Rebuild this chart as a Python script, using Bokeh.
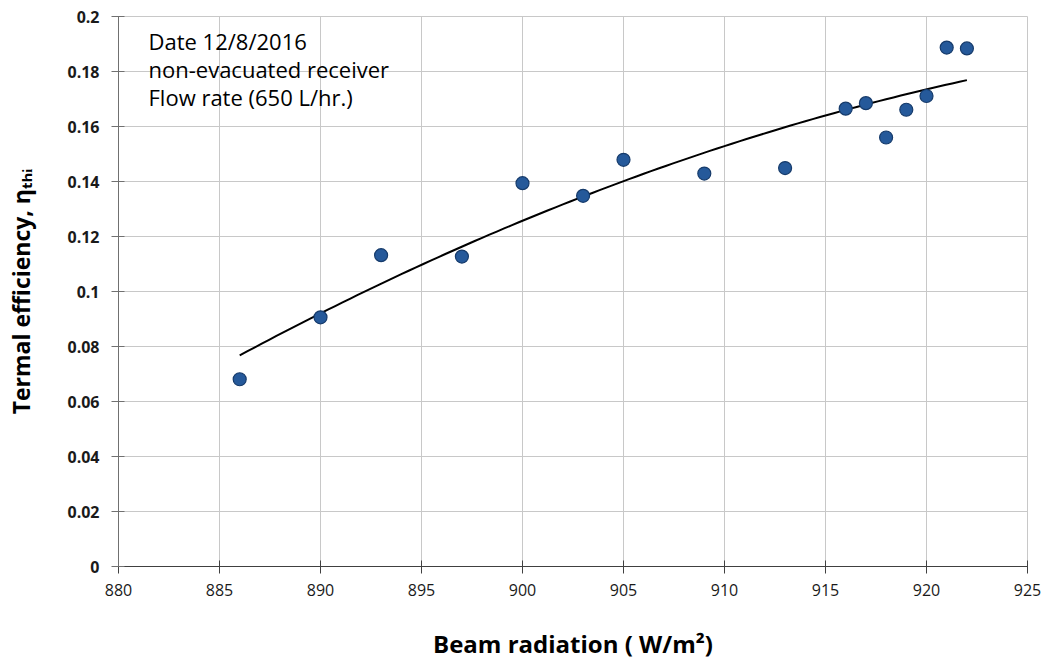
import numpy as np
from bokeh.plotting import figure
from bokeh.models import ColumnDataSource, FixedTicker, Label, Range1d
from bokeh.embed import file_html
from bokeh.resources import INLINE

# ---- data ----
beam_radiation = [886, 890, 893, 897, 900, 903, 905, 909, 913, 916, 917, 918, 919, 920, 921, 922]
efficiency = [0.0681, 0.0906, 0.1132, 0.1127, 0.1394, 0.1348, 0.1479, 0.1429, 0.1449,
              0.1665, 0.1685, 0.1560, 0.1661, 0.1711, 0.1887, 0.1884]
x_ticks = [880, 885, 890, 895, 900, 905, 910, 915, 920, 925]
x_tick_labels = ["880", "885", "890", "895", "900", "905", "910", "915", "920", "925"]
y_ticks = [0, 0.02, 0.04, 0.06, 0.08, 0.1, 0.12, 0.14, 0.16, 0.18, 0.2]
y_tick_labels = ["0", "0.02", "0.04", "0.06", "0.08", "0.1", "0.12", "0.14", "0.16", "0.18", "0.2"]
info_lines = ["Date 12/8/2016", "non-evacuated receiver", "Flow rate (650 L/hr.)"]
x_title = "Beam radiation ( W/m\u00b2)"
y_title = "Termal efficiency, \u03b7\u209c\u2095\u1d62"

# second-order polynomial trend line fitted to the data
coef = np.polyfit(beam_radiation, efficiency, 2)
trend_x = np.linspace(min(beam_radiation), max(beam_radiation), 100)
trend_y = np.polyval(coef, trend_x)

p = figure(width=1050, height=666, output_backend="svg", toolbar_location=None,
           x_range=Range1d(880, 925), y_range=Range1d(0, 0.2),
           min_border_left=118, min_border_right=23, min_border_top=16, min_border_bottom=100)
p.background_fill_color = "white"
p.border_fill_color = "white"
p.outline_line_color = "#c8c8c8"

grid_color = "#c8c8c8"
p.xgrid.grid_line_color = grid_color
p.ygrid.grid_line_color = grid_color
p.xgrid.ticker = FixedTicker(ticks=x_ticks)
p.ygrid.ticker = FixedTicker(ticks=y_ticks)

p.xaxis.ticker = FixedTicker(ticks=x_ticks)
p.yaxis.ticker = FixedTicker(ticks=y_ticks)
p.xaxis.major_label_overrides = {t: l for t, l in zip(x_ticks, x_tick_labels)}
p.yaxis.major_label_overrides = {t: l for t, l in zip(y_ticks, y_tick_labels)}

for ax in (p.xaxis, p.yaxis):
    ax.minor_tick_line_color = None
    ax.major_tick_in = 6
    ax.major_tick_out = 7
    ax.major_label_text_font = "Open Sans"
    ax.major_label_text_font_size = "16px"
    ax.major_label_text_color = "#1a1a1a"
    ax.axis_label_text_font = "Open Sans"
    ax.axis_label_text_font_style = "bold"
    ax.axis_label_text_color = "black"
p.xaxis.axis_line_color = "#404040"
p.xaxis.major_tick_line_color = "#404040"
p.yaxis.axis_line_color = "#707070"
p.yaxis.major_tick_line_color = "#707070"
p.yaxis.major_label_text_font_style = "bold"
p.xaxis.major_label_standoff = 10
p.yaxis.major_label_standoff = 12

p.xaxis.axis_label = x_title
p.xaxis.axis_label_text_font_size = "24px"
p.xaxis.axis_label_standoff = 28
p.yaxis.axis_label = y_title
p.yaxis.axis_label_text_font_size = "23px"
p.yaxis.axis_label_standoff = 27

src = ColumnDataSource(data=dict(x=beam_radiation, y=efficiency))
p.line(trend_x, trend_y, line_color="black", line_width=2)
p.scatter("x", "y", source=src, size=13, fill_color="#25599A", line_color="#163B6B", line_width=1.2)

# info text
for txt, yb in zip(info_lines, [526, 498, 470]):
    p.add_layout(Label(x=30, y=yb, x_units="screen", y_units="screen", text=txt,
                       text_font="Open Sans", text_font_size="22px", text_color="black",
                       text_baseline="alphabetic"))

open("out.html", "w").write(file_html(p, INLINE))
